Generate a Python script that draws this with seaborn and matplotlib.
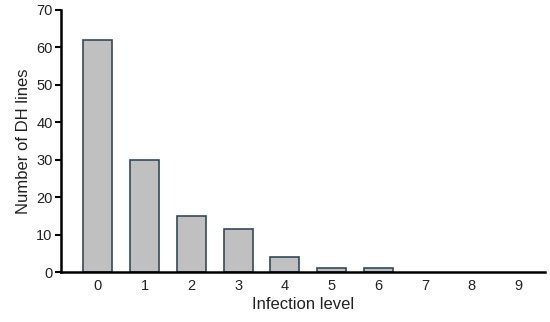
import pandas as pd
import seaborn as sns
import matplotlib.pyplot as plt

levels = [0, 1, 2, 3, 4, 5, 6, 7, 8, 9]
counts = [62, 30, 15, 11.5, 4, 1, 1, 0, 0, 0]

df = pd.DataFrame({'level': levels, 'count': counts})

sns.set_style('ticks')
plt.rcParams['font.family'] = ['Liberation Sans', 'DejaVu Sans']

fig = plt.figure(figsize=(5.5, 3.22), dpi=100)
ax = fig.add_axes([0.111, 0.155, 0.88, 0.814])

sns.barplot(x='level', y='count', data=df, order=levels, color='#c0c0c0',
            edgecolor='#34495a', linewidth=1.2, width=0.62, saturation=1, ax=ax)

# empty levels show no bar outline
for p in ax.patches:
    if p.get_height() == 0:
        p.set_visible(False)

ax.set_xlim(-0.79, 9.57)
ax.set_ylim(0, 70)
ax.set_yticks(range(0, 71, 10))
ax.set_xlabel('Infection level', fontsize=12, color='#222222', labelpad=3)
ax.set_ylabel('Number of DH lines', fontsize=12, color='#222222')
ax.tick_params(axis='x', length=0, labelsize=10.5, pad=5, labelcolor='#222222')
ax.tick_params(axis='y', length=4, width=1.5, labelsize=10.5, pad=2,
               color='black', labelcolor='#222222')
sns.despine(ax=ax)
for side in ['left', 'bottom']:
    ax.spines[side].set_linewidth(1.8)
    ax.spines[side].set_color('black')

fig.savefig('out.png', dpi=100)
